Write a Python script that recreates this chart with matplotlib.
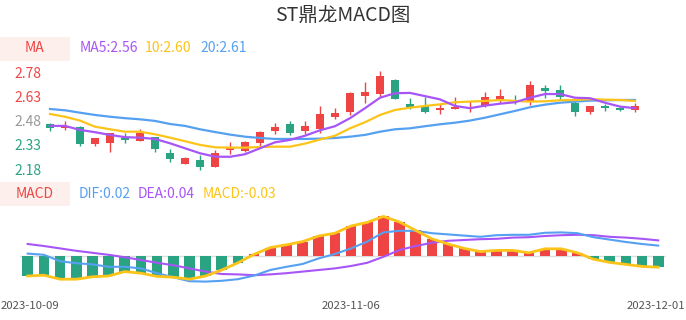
import matplotlib
matplotlib.use('Agg')
import matplotlib.pyplot as plt
from matplotlib.patches import Rectangle
import numpy as np

plt.rcParams['font.family'] = ['Noto Sans CJK SC', 'DejaVu Sans']

# daily candles, 2023-10-09 .. 2023-12-01
opens = [2.460, 2.432, 2.440, 2.334, 2.344, 2.373, 2.355, 2.378, 2.278, 2.214,
         2.237, 2.193, 2.300, 2.294, 2.344, 2.417, 2.458, 2.417, 2.427, 2.505,
         2.537, 2.636, 2.646, 2.732, 2.582, 2.574, 2.547, 2.555, 2.558, 2.572,
         2.611, 2.611, 2.603, 2.686, 2.671, 2.589, 2.537, 2.570, 2.561, 2.547]
closes = [2.437, 2.448, 2.336, 2.371, 2.402, 2.363, 2.406, 2.305, 2.243, 2.249,
          2.195, 2.278, 2.309, 2.346, 2.409, 2.441, 2.406, 2.450, 2.520, 2.530,
          2.651, 2.661, 2.760, 2.617, 2.564, 2.537, 2.561, 2.564, 2.568, 2.628,
          2.632, 2.605, 2.702, 2.665, 2.626, 2.537, 2.572, 2.558, 2.549, 2.570]
highs = [2.468, 2.477, 2.448, 2.373, 2.404, 2.406, 2.427, 2.378, 2.305, 2.255,
         2.266, 2.299, 2.346, 2.355, 2.419, 2.468, 2.479, 2.479, 2.570, 2.560,
         2.661, 2.719, 2.789, 2.738, 2.620, 2.626, 2.582, 2.626, 2.605, 2.661,
         2.678, 2.640, 2.729, 2.702, 2.702, 2.609, 2.574, 2.582, 2.563, 2.589]
lows = [2.419, 2.423, 2.325, 2.325, 2.286, 2.344, 2.353, 2.286, 2.224, 2.212,
        2.174, 2.191, 2.274, 2.288, 2.323, 2.398, 2.392, 2.400, 2.406, 2.489,
        2.516, 2.589, 2.626, 2.615, 2.551, 2.527, 2.520, 2.553, 2.537, 2.566,
        2.592, 2.582, 2.578, 2.620, 2.609, 2.510, 2.520, 2.541, 2.541, 2.537]

ma5 = [2.448, 2.448, 2.423, 2.409, 2.392, 2.378, 2.375, 2.367, 2.340, 2.309,
       2.278, 2.257, 2.256, 2.272, 2.309, 2.346, 2.361, 2.387, 2.421, 2.446,
       2.496, 2.558, 2.623, 2.651, 2.653, 2.633, 2.613, 2.572, 2.558, 2.574,
       2.586, 2.595, 2.623, 2.646, 2.646, 2.623, 2.620, 2.592, 2.568, 2.558]
ma10 = [2.522, 2.505, 2.481, 2.443, 2.427, 2.412, 2.412, 2.396, 2.375, 2.353,
        2.330, 2.315, 2.313, 2.313, 2.317, 2.319, 2.319, 2.338, 2.363, 2.387,
        2.433, 2.471, 2.516, 2.547, 2.561, 2.572, 2.582, 2.595, 2.599, 2.603,
        2.609, 2.603, 2.599, 2.601, 2.607, 2.609, 2.614, 2.611, 2.609, 2.603]
ma20 = [2.553, 2.545, 2.530, 2.516, 2.505, 2.496, 2.489, 2.479, 2.460, 2.448,
        2.427, 2.410, 2.394, 2.381, 2.373, 2.367, 2.367, 2.367, 2.369, 2.373,
        2.381, 2.392, 2.412, 2.427, 2.433, 2.446, 2.458, 2.468, 2.481, 2.499,
        2.520, 2.541, 2.564, 2.580, 2.592, 2.599, 2.605, 2.607, 2.609, 2.609]

dif = [0.006, 0.003, -0.013, -0.018, -0.021, -0.027, -0.027, -0.031, -0.043, -0.053,
       -0.063, -0.064, -0.062, -0.058, -0.049, -0.035, -0.027, -0.020, -0.006, 0.005,
       0.019, 0.036, 0.059, 0.063, 0.063, 0.057, 0.054, 0.051, 0.048, 0.052,
       0.053, 0.053, 0.058, 0.059, 0.057, 0.047, 0.041, 0.035, 0.030, 0.026]
dea = [0.030, 0.025, 0.019, 0.013, 0.008, 0.003, -0.003, -0.010, -0.017, -0.023,
       -0.031, -0.039, -0.045, -0.046, -0.048, -0.046, -0.043, -0.039, -0.035, -0.031,
       -0.025, -0.017, -0.002, 0.015, 0.025, 0.033, 0.038, 0.040, 0.042, 0.043,
       0.046, 0.047, 0.050, 0.052, 0.053, 0.052, 0.048, 0.046, 0.043, 0.039]
hist = [-0.050, -0.048, -0.058, -0.058, -0.052, -0.050, -0.039, -0.043, -0.051, -0.053,
        -0.058, -0.050, -0.035, -0.017, 0.004, 0.021, 0.028, 0.036, 0.050, 0.057,
        0.075, 0.084, 0.099, 0.085, 0.064, 0.043, 0.030, 0.019, 0.011, 0.014,
        0.014, 0.008, 0.018, 0.018, 0.008, -0.008, -0.016, -0.021, -0.026, -0.028]

date_pos = [0, 20, 39]
date_labels = ['2023-10-09', '2023-11-06', '2023-12-01']
price_ticks = [2.18, 2.33, 2.48, 2.63, 2.78]
ref_price = 2.48

RED = '#ef4444'
GREEN = '#2aa383'
PURPLE = '#a855f7'
YELLOW = '#fcc419'
BLUE = '#56a0f2'

W, H = 686, 320
fig = plt.figure(figsize=(W / 100, H / 100), dpi=100)


def box(x0, y0, x1, y1):
    # pixel rect (y from top) -> figure fraction
    return [x0 / W, 1 - y1 / H, (x1 - x0) / W, (y1 - y0) / H]


def clean(ax):
    for s in ax.spines.values():
        s.set_visible(False)


fig.text(0.5, 1 - 15 / H, 'ST鼎龙MACD图', ha='center', va='center',
         fontsize=14, color='#333333')

# ---- price panel
ax = fig.add_axes(box(42.5, 62, 642.5, 175))
clean(ax)
x = np.arange(len(closes))
o = np.array(opens)
c = np.array(closes)
cols = np.where(c >= o, RED, GREEN)
ax.vlines(x, lows, highs, colors=cols, lw=1)
ax.bar(x, np.maximum(np.abs(c - o), 0.004), bottom=np.minimum(o, c),
       width=0.5, color=cols)
ax.plot(x, ma20, color=BLUE, lw=1.6)
ax.plot(x, ma10, color=YELLOW, lw=1.6)
ax.plot(x, ma5, color=PURPLE, lw=1.6)
ax.set_xlim(-0.5, 39.5)
ax.set_ylim(2.143, 2.845)
ax.set_xticks([])
ax.set_yticks(price_ticks)
ax.set_yticklabels(['%.2f' % t for t in price_ticks], fontsize=10)
ax.tick_params(axis='y', length=0, pad=1)
for t, lab in zip(price_ticks, ax.get_yticklabels()):
    if t > ref_price:
        lab.set_color(RED)
    elif t < ref_price:
        lab.set_color(GREEN)
    else:
        lab.set_color('#999999')

fig.add_artist(Rectangle((0, 1 - 60.7 / H), 70 / W, 24 / H,
                         transform=fig.transFigure, color='#fdf0ec', lw=0))
fig.text(35 / W, 1 - 48.5 / H, 'MA', ha='center', va='center', fontsize=10, color=RED)
fig.text(80 / W, 1 - 48.5 / H, 'MA5:2.56', va='center', fontsize=10, color=PURPLE)
fig.text(145 / W, 1 - 48.5 / H, '10:2.60', va='center', fontsize=10, color=YELLOW)
fig.text(200 / W, 1 - 48.5 / H, '20:2.61', va='center', fontsize=10, color=BLUE)

# ---- MACD panel
bx = fig.add_axes(box(19.6, 212, 666.3, 292))
clean(bx)
h = np.array(hist)
bx.axhline(0, color='#dddddd', lw=1, zorder=0)
bx.bar(x, h, width=0.66, color=np.where(h >= 0, RED, GREEN))
bx.plot(x, dea, color=PURPLE, lw=1.5)
bx.plot(x, dif, color=BLUE, lw=1.5)
bx.plot(x, hist, color=YELLOW, lw=2)
bx.set_xlim(-0.5, 39.5)
bx.set_ylim(-0.09, 0.11)
bx.set_xticks([])
bx.set_yticks([])

# date labels; the outer two are pinned to the figure edges
for pos, lab in zip(date_pos, date_labels):
    xf = bx.transData.transform((pos, 0))[0] / W
    ha = 'center'
    if pos == date_pos[0]:
        xf, ha = 0.5 / W, 'left'
    elif pos == date_pos[-1]:
        xf, ha = 685.5 / W, 'right'
    fig.text(xf, 1 - 306 / H, lab, ha=ha, va='center', fontsize=8.2, color='#555555')

fig.add_artist(Rectangle((0, 1 - 205.7 / H), 70 / W, 24 / H,
                         transform=fig.transFigure, color='#fdf0ec', lw=0))
fig.text(35 / W, 1 - 194 / H, 'MACD', ha='center', va='center', fontsize=10, color=RED)
fig.text(79 / W, 1 - 194 / H, 'DIF:0.02', va='center', fontsize=10, color=BLUE)
fig.text(138 / W, 1 - 194 / H, 'DEA:0.04', va='center', fontsize=10, color=PURPLE)
fig.text(203 / W, 1 - 194 / H, 'MACD:-0.03', va='center', fontsize=10, color=YELLOW)

fig.savefig('out.png', dpi=100)
